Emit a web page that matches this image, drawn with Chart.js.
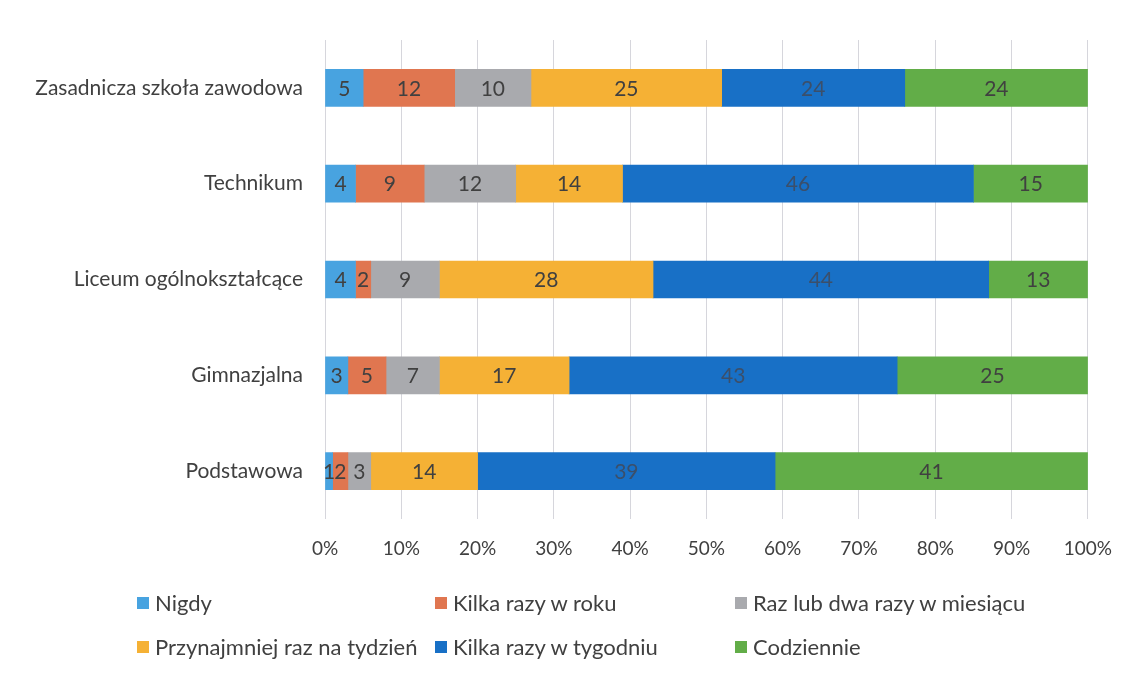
<!DOCTYPE html>
<html><head><meta charset="utf-8">
<script src="https://cdn.jsdelivr.net/npm/chart.js@4/dist/chart.umd.min.js"></script>
<style>
html,body{margin:0;padding:0;background:#fff;}
#wrap{position:relative;width:1130px;height:674px;}
#legend{position:absolute;left:0;top:0;width:1130px;height:674px;pointer-events:none;font-family:Lato,"Open Sans",sans-serif;font-size:22px;color:#404040;}
.li{position:absolute;display:flex;align-items:center;white-space:nowrap;}
.sw{width:12px;height:12px;margin-right:6px;display:inline-block;}
</style></head>
<body>
<div id="wrap"><canvas id="c" width="1130" height="674"></canvas><div id="legend"></div></div>
<script>
const categories = ["Zasadnicza szkoła zawodowa","Technikum","Liceum ogólnokształcące","Gimnazjalna","Podstawowa"];
const seriesNames = ["Nigdy","Kilka razy w roku","Raz lub dwa razy w miesiącu","Przynajmniej raz na tydzień","Kilka razy w tygodniu","Codziennie"];
const nigdy       = [5, 4, 4, 3, 1];
const kilkaRok    = [12, 9, 2, 5, 2];
const razMiesiac  = [10, 12, 9, 7, 3];
const razTydzien  = [25, 14, 28, 17, 14];
const kilkaTydz   = [24, 46, 44, 43, 39];
const codziennie  = [24, 15, 13, 25, 41];
const tickValues  = [0,10,20,30,40,50,60,70,80,90,100];
const colors = ["#48a3e0","#e07650","#a9aaae","#f5b135","#1870c6","#62ad48"];
const allSeries = [nigdy,kilkaRok,razMiesiac,razTydzien,kilkaTydz,codziennie];

const FONT = 'Lato, "Open Sans", sans-serif';
const labelPlugin = {
  id:'vals',
  afterDatasetsDraw(chart){
    const ctx = chart.ctx;
    ctx.save();
    ctx.font = '21px ' + FONT;
    ctx.textAlign='center'; ctx.textBaseline='middle';
    chart.data.datasets.forEach((ds,di)=>{
      const meta = chart.getDatasetMeta(di);
      ctx.fillStyle = di===4 ? '#3b4f6a' : '#404040';
      meta.data.forEach((el,i)=>{
        const x = (el.x + el.base)/2;
        ctx.fillText(String(ds.data[i]), x, el.y+1);
      });
    });
    ctx.restore();
  }
};

new Chart(document.getElementById('c'),{
  type:'bar',
  data:{
    labels:categories,
    datasets: allSeries.map((d,i)=>({label:seriesNames[i],data:d,backgroundColor:colors[i],borderWidth:0,barThickness:37}))
  },
  options:{
    indexAxis:'y',
    responsive:false,
    animation:false,
    layout:{padding:{left:0,right:40,top:40,bottom:0}},
    plugins:{legend:{display:false},tooltip:{enabled:false}},
    scales:{
      x:{
        stacked:true,min:0,max:100,
        afterBuildTicks(s){ s.ticks = tickValues.map(v=>({value:v})); },
        afterFit(s){ s.height = 155; },
        grid:{color:'#d6d6dc',lineWidth:1,drawTicks:false},
        border:{display:false},
        ticks:{padding:18,color:'#404040',font:{family:FONT,size:19},callback:v=>v+'%',autoSkip:false,maxRotation:0}
      },
      y:{
        stacked:true,
        afterFit(s){ s.width = 325; },
        grid:{display:false,drawTicks:false},
        border:{display:false},
        ticks:{padding:22,color:'#404040',font:{family:FONT,size:21}}
      }
    }
  },
  plugins:[labelPlugin]
});

const legendPos = [[137,603],[435,603],[735,603],[137,647],[435,647],[735,647]];
const lg = document.getElementById('legend');
seriesNames.forEach((n,i)=>{
  const d = document.createElement('div');
  d.className='li';
  d.style.left = legendPos[i][0]+'px';
  d.style.top = (legendPos[i][1]-14)+'px';
  d.innerHTML = '<span class="sw" style="background:'+colors[i]+'"></span><span>'+n+'</span>';
  lg.appendChild(d);
});
</script>
</body></html>
